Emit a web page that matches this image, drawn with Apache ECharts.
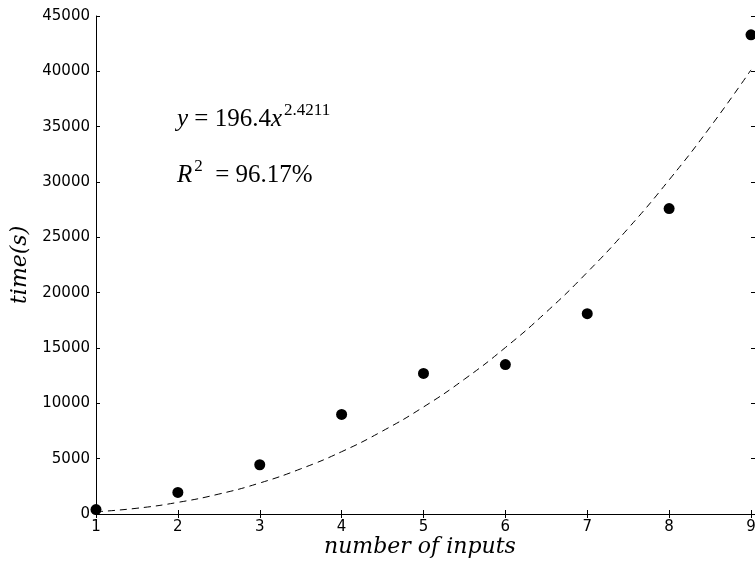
<!DOCTYPE html>
<html>
<head>
<meta charset="utf-8">
<script src="https://cdn.jsdelivr.net/npm/echarts@6/dist/echarts.min.js"></script>
<style>
  html, body { margin: 0; padding: 0; background: #fff; }
  #main { width: 755px; height: 568px; }
</style>
</head>
<body>
<div id="main"></div>
<script>
// measured points
var inputs = [1, 2, 3, 4, 5, 6, 7, 8, 9];
var times = [400, 1950, 4450, 9000, 12700, 13500, 18100, 27600, 43300];

// dashed fit curve
var fitX = [1, 1.5, 2, 2.5, 3, 3.5, 4, 4.5, 5, 5.5, 6, 6.5, 7, 7.5, 8, 8.5, 9];
var fitY = [200, 520, 1050, 1800, 2800, 4080, 5630, 7500, 9670, 12180, 15040, 18250, 21840, 25810, 30190, 34950, 40130];

var xTicks = { min: 1, max: 9, step: 1 };
var yTicks = { min: 0, max: 45000, step: 5000 };

function zip(a, b) {
  var res = [];
  for (var i = 0; i < a.length; i++) {
    res.push([a[i], b[i]]);
  }
  return res;
}

var tickFont = 'DejaVu Sans';
var mathFont = 'Liberation Serif';
var labelFont = 'DejaVu Serif';

var lineStyle = { color: '#000', width: 1 };
function plain(v) {
  return String(v);
}

var mathRich = {
  n: { fontFamily: mathFont, fontSize: 25, lineHeight: 34 },
  i: { fontStyle: 'italic', fontFamily: mathFont, fontSize: 25, lineHeight: 34 },
  sup: { fontFamily: mathFont, fontSize: 17, lineHeight: 34, verticalAlign: 'top', padding: [0, 0, 0, 2] },
};

var chart = echarts.init(document.getElementById('main'));
var option = {
  animation: false,
  backgroundColor: '#fff',
  grid: { left: 96, right: 4, top: 16, bottom: 54, containLabel: false, outerBoundsMode: 'none' },
  xAxis: [
    {
      type: 'value',
      min: xTicks.min,
      max: xTicks.max,
      interval: xTicks.step,
      axisLine: { show: true, lineStyle: lineStyle },
      axisTick: { show: true, inside: true, length: 4, lineStyle: lineStyle },
      axisLabel: { color: '#000', fontFamily: tickFont, fontSize: 15, margin: 6, formatter: plain },
      splitLine: { show: false },
    },
    {
      type: 'value',
      position: 'top',
      min: xTicks.min,
      max: xTicks.max,
      interval: xTicks.step,
      axisLine: { show: true, lineStyle: lineStyle },
      axisTick: { show: true, inside: true, length: 4, lineStyle: lineStyle },
      axisLabel: { show: false },
      splitLine: { show: false },
    },
  ],
  yAxis: [
    {
      type: 'value',
      min: yTicks.min,
      max: yTicks.max,
      interval: yTicks.step,
      axisLine: { show: true, lineStyle: lineStyle },
      axisTick: { show: true, inside: true, length: 4, lineStyle: lineStyle },
      axisLabel: { color: '#000', fontFamily: tickFont, fontSize: 15, margin: 6, formatter: plain },
      splitLine: { show: false },
    },
    {
      // right spine falls just outside the picture, only the tick marks show
      type: 'value',
      position: 'right',
      min: yTicks.min,
      max: yTicks.max,
      interval: yTicks.step,
      axisLine: { show: false },
      axisTick: { show: true, inside: false, length: 4, lineStyle: lineStyle },
      axisLabel: { show: false },
      splitLine: { show: false },
    },
  ],
  graphic: [
    {
      type: 'text',
      left: 324,
      top: 536,
      style: {
        text: 'number of inputs',
        font: 'italic 22px "' + labelFont + '"',
        fill: '#000',
      },
    },
    {
      type: 'text',
      x: 9,
      y: 304,
      rotation: Math.PI / 2,
      style: {
        text: 'time(s)',
        font: 'italic 22px "' + labelFont + '"',
        fill: '#000',
      },
    },
    {
      type: 'text',
      left: 177,
      top: 102,
      style: {
        text: '{i|y}{n| = 196.4}{i|x}{sup|2.4211}',
        fill: '#000',
        rich: mathRich,
      },
    },
    {
      type: 'text',
      left: 177,
      top: 158,
      style: {
        text: '{i|R}{sup|2}{n|  = 96.17%}',
        fill: '#000',
        rich: mathRich,
      },
    },
  ],
  series: [
    {
      name: 'fit',
      type: 'line',
      xAxisIndex: 0,
      yAxisIndex: 0,
      data: zip(fitX, fitY),
      smooth: true,
      showSymbol: false,
      symbol: 'none',
      lineStyle: { color: '#000', width: 1, type: [7, 5] },
      z: 2,
    },
    {
      name: 'time',
      type: 'scatter',
      xAxisIndex: 0,
      yAxisIndex: 0,
      data: zip(inputs, times),
      symbol: 'circle',
      symbolSize: 11,
      itemStyle: { color: '#000', opacity: 1 },
      clip: false,
      z: 3,
    },
  ],
};
chart.setOption(option);
</script>
</body>
</html>
